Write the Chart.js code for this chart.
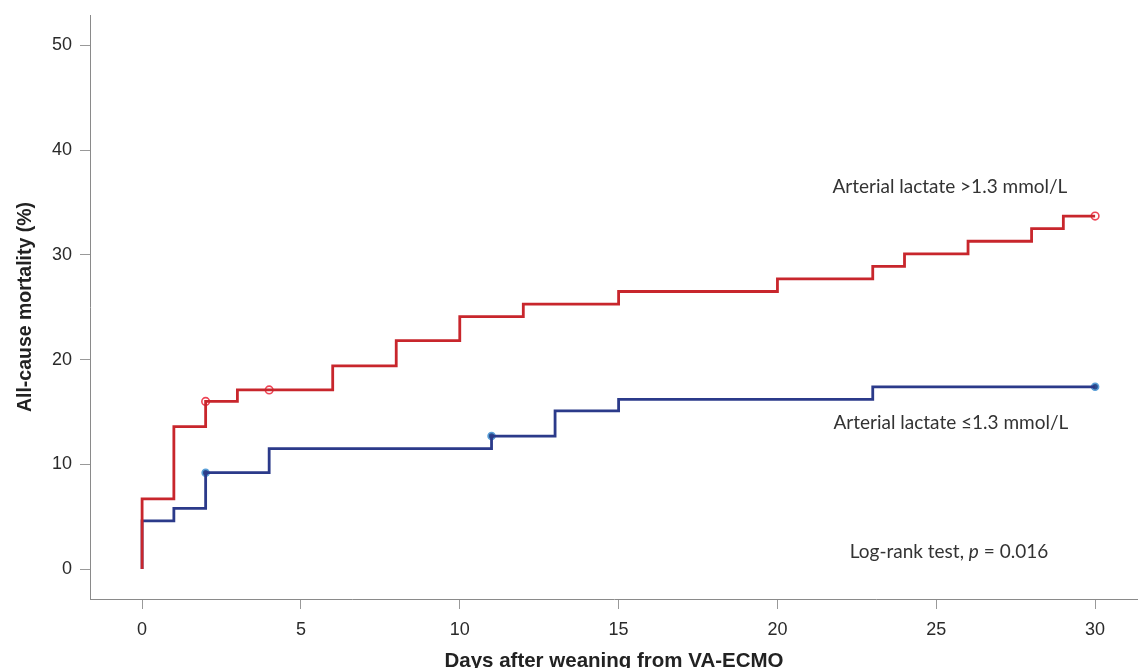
<!DOCTYPE html>
<html>
<head>
<meta charset="utf-8">
<script src="https://cdn.jsdelivr.net/npm/chart.js@4"></script>
<style>
  html, body { margin: 0; padding: 0; background: #fff; overflow: hidden; }
  canvas { display: block; }
</style>
</head>
<body>
<canvas id="kmChart" width="1138" height="668"></canvas>
<script>
// Kaplan-Meier cumulative mortality
const highTimes = [0, 0, 1, 2, 3, 6, 8, 10, 12, 15, 20, 23, 24, 26, 28, 29, 30];
const highValues = [0, 6.7, 13.6, 16.0, 17.1, 19.4, 21.8, 24.1, 25.3, 26.5, 27.7, 28.9, 30.1, 31.3, 32.5, 33.7, 33.7];
const lowTimes = [0, 0, 1, 2, 4, 11, 13, 15, 23, 30];
const lowValues = [0, 4.6, 5.8, 9.2, 11.5, 12.7, 15.1, 16.2, 17.4, 17.4];

// censored observations
const highCensorTimes = [2, 4, 30];
const highCensorValues = [16.0, 17.1, 33.7];
const lowCensorTimes = [2, 11, 30];
const lowCensorValues = [9.2, 12.7, 17.4];

const xTicks = [0, 5, 10, 15, 20, 25, 30];
const yTicks = [0, 10, 20, 30, 40, 50];

const labelHigh = "Arterial lactate >1.3 mmol/L";
const labelLow = "Arterial lactate \u22641.3 mmol/L";

const toPoints = (xs, ys) => xs.map((x, i) => ({ x: x, y: ys[i] }));

// text annotations placed in data coordinates
const annotate = {
  id: "annotate",
  afterDatasetsDraw(chart) {
    const { ctx, scales } = chart;
    const x = scales.x, y = scales.y;
    const regular = '19px Lato, "Open Sans", sans-serif';
    const italic = 'italic 19px Lato, "Open Sans", sans-serif';
    ctx.save();
    ctx.fillStyle = "#333";
    ctx.textBaseline = "middle";
    ctx.textAlign = "center";
    ctx.font = regular;
    ctx.fillText(labelHigh, x.getPixelForValue(25.43), y.getPixelForValue(36.5));
    ctx.fillText(labelLow, x.getPixelForValue(25.46), y.getPixelForValue(14.0));

    // "Log-rank test, p = 0.016" with italic p
    const a = "Log-rank test, ", b = "p", c = " = 0.016";
    ctx.font = regular;
    const wa = ctx.measureText(a).width, wc = ctx.measureText(c).width;
    ctx.font = italic;
    const wb = ctx.measureText(b).width;
    const total = wa + wb + wc;
    let px = x.getPixelForValue(25.4) - total / 2;
    const py = y.getPixelForValue(1.6);
    ctx.textAlign = "left";
    ctx.font = regular;
    ctx.fillText(a, px, py);
    px += wa;
    ctx.font = italic;
    ctx.fillText(b, px, py);
    px += wb;
    ctx.font = regular;
    ctx.fillText(c, px, py);
    ctx.restore();
  },
};

const ctx = document.getElementById("kmChart").getContext("2d");
new Chart(ctx, {
  type: "scatter",
  data: {
    datasets: [
      {
        label: labelHigh,
        data: toPoints(highTimes, highValues),
        showLine: true,
        stepped: "before",
        borderColor: "#c8262c",
        borderWidth: 2.8,
        pointRadius: 0,
        fill: false,
      },
      {
        label: labelLow,
        data: toPoints(lowTimes, lowValues),
        showLine: true,
        stepped: "before",
        borderColor: "#2b3a8a",
        borderWidth: 2.8,
        pointRadius: 0,
        fill: false,
      },
      {
        label: "censored high",
        data: toPoints(highCensorTimes, highCensorValues),
        showLine: false,
        pointRadius: 3.8,
        pointBorderWidth: 1.6,
        pointBackgroundColor: "#ffffff",
        pointBorderColor: "#ee4455",
      },
      {
        label: "censored low",
        data: toPoints(lowCensorTimes, lowCensorValues),
        showLine: false,
        pointRadius: 3.5,
        pointBorderWidth: 1.6,
        pointBackgroundColor: "#2c4f8f",
        pointBorderColor: "#5a9fd8",
      },
    ],
  },
  options: {
    responsive: false,
    animation: false,
    // no auto padding for point radius, so the plot fills the canvas edge
    layout: { autoPadding: false, padding: { top: 15, right: 0, left: 0, bottom: 0 } },
    plugins: {
      legend: { display: false },
      tooltip: { enabled: false },
    },
    scales: {
      x: {
        type: "linear",
        min: -1.64,
        max: 31.35,
        afterBuildTicks: (axis) => {
          axis.ticks = xTicks.map((v) => ({ value: v }));
        },
        afterFit: (axis) => {
          axis.height = 69;
          axis.paddingLeft = 0;
          axis.paddingRight = 0;
        },
        border: { display: true, color: "#8a8a8a", width: 1 },
        grid: {
          drawOnChartArea: false,
          drawTicks: true,
          tickLength: 10,
          color: "#999",
        },
        ticks: {
          padding: 10,
          color: "#2a2a2a",
          font: { family: '"Liberation Sans", Arial, sans-serif', size: 18 },
        },
        title: {
          display: true,
          text: "Days after weaning from VA-ECMO",
          color: "#222",
          padding: { top: 0, bottom: -3.5 },
          font: { family: '"Liberation Sans", Arial, sans-serif', size: 20.5, weight: "bold", lineHeight: 1 },
        },
      },
      y: {
        type: "linear",
        min: -2.86,
        max: 52.9,
        afterBuildTicks: (axis) => {
          axis.ticks = yTicks.map((v) => ({ value: v }));
        },
        afterFit: (axis) => {
          axis.width = 90;
          axis.paddingTop = 0;
          axis.paddingBottom = 0;
        },
        border: { display: true, color: "#8a8a8a", width: 1 },
        grid: {
          drawOnChartArea: false,
          drawTicks: true,
          tickLength: 10,
          color: "#999",
        },
        ticks: {
          padding: 8,
          color: "#2a2a2a",
          font: { family: '"Liberation Sans", Arial, sans-serif', size: 18 },
        },
        title: {
          display: true,
          text: "All-cause mortality (%)",
          color: "#222",
          padding: { top: 14, bottom: 0 },
          font: { family: '"Liberation Sans", Arial, sans-serif', size: 19.5, weight: "bold", lineHeight: 1.2 },
        },
      },
    },
  },
  plugins: [annotate],
});
</script>
</body>
</html>
